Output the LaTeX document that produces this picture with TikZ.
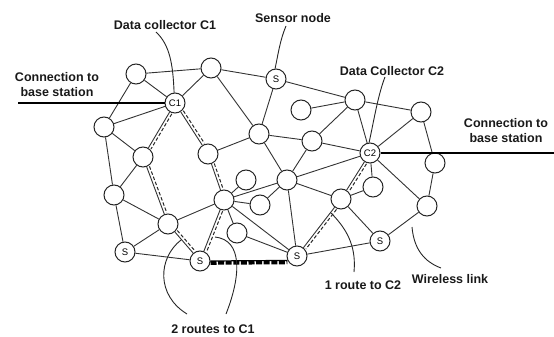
\documentclass[tikz,border=0pt]{standalone}
\usepackage{fontspec}
\setmainfont{Liberation Sans}
\usetikzlibrary{calc}
\newcommand\routeline[2]{%
  \draw[edge] (#1) -- (#2);
  \draw[routedash] ($(#1)!11pt!(#2)!2.8pt!90:(#2)$) -- ($(#2)!11pt!(#1)!2.8pt!-90:(#1)$);}
\begin{document}
\begin{tikzpicture}[x=1pt,y=-1pt,
  nd/.style={circle,draw=black!85,line width=1pt,minimum size=20pt,inner sep=0pt,fill=white,font=\fontsize{9.5}{10}\selectfont},
  edge/.style={draw=black!80,line width=0.9pt},
  routedash/.style={draw=black!85,line width=1pt,dash pattern=on 3.5pt off 2pt},
  lbl/.style={font=\fontsize{12.5}{15}\selectfont\bfseries,text=black!90,inner sep=0pt,align=center},
  ptr/.style={draw=black!85,line width=0.9pt},
]
\useasboundingbox (0,0) rectangle (554,337);
% nodes
\node[nd] (n1) at (136,74) {};
\node[nd] (n2) at (211,68) {};
\node[nd] (St) at (276,79) {S};
\node[nd] (C1) at (175,103) {C1};
\node[nd] (n3) at (104,127) {};
\node[nd] (n4) at (143,157) {};
\node[nd] (n5) at (208,154) {};
\node[nd] (n6) at (114,195) {};
\node[nd] (n7) at (168,224) {};
\node[nd] (Sbl) at (125,252) {S};
\node[nd] (Sb1) at (200,261) {S};
\node[nd] (n8) at (224,200) {};
\node[nd] (n9) at (246,180) {};
\node[nd] (n10) at (260,205) {};
\node[nd] (n11) at (237,233) {};
\node[nd] (n12) at (287,180) {};
\node[nd] (n13) at (259,134) {};
\node[nd] (n15) at (301,110) {};
\node[nd] (n16) at (355,100) {};
\node[nd] (n17) at (312,141) {};
\node[nd] (n18) at (421,112) {};
\node[nd] (C2) at (370,153) {C2};
\node[nd] (n19) at (435,163) {};
\node[nd] (n20) at (373,187) {};
\node[nd] (n21) at (341,199) {};
\node[nd] (n22) at (427,206) {};
\node[nd] (Sr) at (380,241) {S};
\node[nd] (Sb2) at (297,256) {S};
% edges
\foreach \a/\b in {n1/n2,n1/C1,n1/n3,n2/C1,n2/St,n2/n13,C1/n3,n3/n4,n3/n6,
  St/n13,St/n16,n5/n13,n13/n17,n13/n12,n15/n16,n17/n16,n17/C2,n17/n12,
  n16/n18,n16/C2,C2/n18,n18/n19,n12/C2,n12/n8,n12/n10,n12/Sb2,n12/n21,
  n4/n6,n6/n7,n6/Sbl,n7/Sbl,n7/n8,Sbl/Sb1,n8/n9,n8/n10,n8/n11,n8/Sb2,
  n11/Sb2,C2/n20,n21/n20,C2/n22,n19/n22,n22/Sr,n21/Sr,Sb2/Sr}
  \draw[edge] (\a) -- (\b);
% routes
\routeline{C1}{n4}
\routeline{C1}{n5}
\routeline{n4}{n7}
\routeline{n5}{n8}
\routeline{n7}{Sb1}
\routeline{n8}{Sb1}
\routeline{C2}{n21}
\routeline{n21}{Sb2}
% heavy link between S nodes
\draw[line width=1.2pt] (Sb1.east) -- (Sb2.205);
\draw[line width=3.6pt,dash pattern=on 6pt off 1.6pt] ($(Sb1.east)+(0,2)$) -- ($(Sb2.205)+(0,2)$);
% base station connections
\coordinate (bl) at (18,103);
\coordinate (br) at (554,153);
\draw[line width=1.1pt] (bl) -- (C1.west);
\draw[line width=2.2pt] (C2.east) -- (br);
% labels
\node[lbl] (tC1) at (165,25) {Data collector C1};
\node[lbl] (tS) at (293,18) {Sensor node};
\node[lbl] (tBL) at (57,85) {Connection to\\base station};
\node[lbl] (tC2) at (392,71) {Data Collector C2};
\node[lbl] (tBR) at (506,131) {Connection to\\base station};
\node[lbl] (t2r) at (213,329) {2 routes to C1};
\node[lbl] (t1r) at (363,285) {1 route to C2};
\node[lbl] (tWL) at (450,279) {Wireless link};
% pointers
\coordinate (pC1) at (156,32);
\coordinate (pS) at (286,26);
\coordinate (pC2) at (385,77);
\coordinate (p2a) at (181,240);
\coordinate (p2b) at (215,237);
\coordinate (p2ae) at (187,314);
\coordinate (p2be) at (226,314);
\coordinate (p1r) at (331,213);
\coordinate (p1re) at (354,272);
\coordinate (pwl) at (412,227);
\coordinate (pwle) at (441,268);
\draw[ptr] (pC1) .. controls (170,45) and (173,65) .. (C1.95);
\draw[ptr] (pS) .. controls (280,40) and (278,55) .. (St.95);
\draw[ptr] (pC2) .. controls (378,95) and (374,120) .. (C2.95);
\draw[ptr] (p2a) .. controls (158,258) and (156,295) .. (p2ae);
\draw[ptr] (p2b) .. controls (243,240) and (241,276) .. (p2be);
\draw[ptr] (p1r) .. controls (350,232) and (356,250) .. (p1re);
\draw[ptr] (pwl) .. controls (414,250) and (425,262) .. (pwle);
\end{tikzpicture}
\end{document}
